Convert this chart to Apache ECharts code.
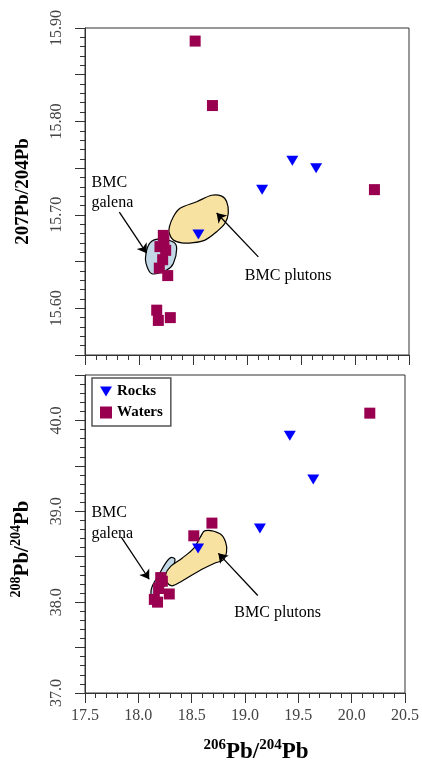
<!DOCTYPE html>
<html>
<head>
<meta charset="utf-8">
<script src="https://cdn.jsdelivr.net/npm/echarts@6/dist/echarts.min.js"></script>
<style>html,body{margin:0;padding:0;background:#fff}#c{width:422px;height:765px}</style>
</head>
<body>
<div id="c"></div>
<script>
// ---- Data ----
const xRange = [17.5, 20.5];
const xTicks = ['17.5','18.0','18.5','19.0','19.5','20.0','20.5'];
const yTopRange = [15.55, 15.90];
const yTopTicks = ['15.60','15.70','15.80','15.90'];
const yBotRange = [37.0, 40.5];
const yBotTicks = ['37.0','38.0','39.0','40.0'];

const rocksX206Top = [19.42, 19.64, 19.14, 18.55];
const rocksY207 = [15.758, 15.750, 15.727, 15.679];
const watersX206Top = [18.52, 18.68, 20.18, 18.225, 18.231, 18.194, 18.247, 18.219, 18.188, 18.266, 18.164, 18.179, 18.29];
const watersY207 = [15.886, 15.817, 15.727, 15.678, 15.673, 15.666, 15.662, 15.652, 15.643, 15.635, 15.598, 15.587, 15.590];

const rocksX206Bot = [19.42, 19.64, 19.14, 18.56];
const rocksY208 = [39.83, 39.35, 38.81, 38.59];
const watersX206Bot = [20.17, 18.69, 18.52, 18.21, 18.225, 18.19, 18.15, 18.18, 18.29];
const watersY208 = [40.08, 38.87, 38.73, 38.27, 38.23, 38.15, 38.03, 38.00, 38.09];

const galenaTop = [[18.102,15.670],[18.179,15.674],[18.318,15.671],[18.349,15.664],[18.318,15.648],[18.256,15.641],[18.118,15.637],[18.065,15.648],[18.065,15.659]];
const plutonsTop = [[18.281,15.687],[18.318,15.698],[18.380,15.707],[18.534,15.714],[18.673,15.721],[18.766,15.720],[18.812,15.714],[18.827,15.702],[18.796,15.691],[18.719,15.682],[18.611,15.673],[18.488,15.670],[18.395,15.670],[18.318,15.673],[18.281,15.680]];
const galenaBot = [[18.303,38.490],[18.343,38.473],[18.318,38.359],[18.271,38.233],[18.225,38.145],[18.148,38.073],[18.118,38.091],[18.132,38.180],[18.194,38.305],[18.256,38.430]];
const plutonsBot = [[18.627,38.787],[18.766,38.752],[18.818,38.662],[18.827,38.555],[18.796,38.466],[18.719,38.430],[18.565,38.341],[18.410,38.233],[18.318,38.180],[18.271,38.216],[18.256,38.305],[18.303,38.394],[18.410,38.484],[18.519,38.591],[18.581,38.715]];

const arrowsTop = [[[17.818,15.703],[18.071,15.659]], [[19.105,15.655],[18.719,15.702]]];
const arrowsBot = [[[17.840,38.715],[18.102,38.252]], [[19.120,38.073],[18.750,38.537]]];
const labelsTop = [[17.56,15.734,'BMC'],[17.56,15.713,'galena'],[18.98,15.635,'BMC plutons']];
const labelsBot = [[17.56,38.98,'BMC'],[17.56,38.755,'galena'],[18.9,37.88,'BMC plutons']];

// ---- Styles ----
const SERIF = '"Liberation Serif","DejaVu Serif",serif';
const BLUE = '#0000ff';
const MAROON = '#990050';
const YELLOW = '#f8e2a2';
const LIGHTBLUE = '#c2d8e6';
const AX = '#333';

function zip(xs, ys){ return xs.map((x,i)=>[x, ys[i]]); }

function polygonSeries(idx, pts, fill){
  return {
    type:'custom', xAxisIndex:idx, yAxisIndex:idx, silent:true, z:2,
    data: pts,
    renderItem: function(params, api){
      if (params.dataIndex !== 0) return null;
      const p = pts.map(d => api.coord(d));
      return {type:'polygon', shape:{points:p, smooth:0.35}, style:{fill:fill, stroke:'#000', lineWidth:1.2}};
    }
  };
}
function textSeries(idx, items){
  return {
    type:'custom', xAxisIndex:idx, yAxisIndex:idx, silent:true, z:5,
    data: items.map(d=>[d[0], d[1]]),
    renderItem: function(params, api){
      const it = items[params.dataIndex];
      const c = api.coord([it[0], it[1]]);
      return {type:'text', x:c[0], y:c[1], style:{text:it[2], font:'16px '+SERIF, fill:'#000', verticalAlign:'middle', align:'left'}};
    }
  };
}
function arrowSeries(idx, arr){
  return {
    type:'lines', coordinateSystem:'cartesian2d', xAxisIndex:idx, yAxisIndex:idx, silent:true, z:4,
    symbol:['none','arrow'], symbolSize:9,
    lineStyle:{color:'#000', width:1.3, opacity:1},
    data: arr.map(a=>({coords:a}))
  };
}

function fmtTop(v){ return Math.abs(v*10 - Math.round(v*10)) < 1e-6 ? v.toFixed(2) : ''; }
function fmtBot(v){ return Math.abs(v - Math.round(v)) < 1e-6 ? v.toFixed(1) : ''; }
function fmtX(v){ return v.toFixed(1); }

const axisLineS = {show:true, lineStyle:{color:AX, width:1}};
const tickS = {show:true, length:10, lineStyle:{color:AX, width:1}};
const minorS = {show:true, splitNumber:5, length:5, lineStyle:{color:AX, width:1}};
const labelS = {fontFamily:SERIF, fontSize:16, color:'#444'};

const option = {
  animation:false,
  backgroundColor:'#fff',
  grid:[
    {left:85, right:13, top:28, height:327, show:true, borderColor:AX, borderWidth:1, containLabel:false},
    {left:85, right:13, top:375, height:327, show:true, borderColor:AX, borderWidth:1, containLabel:false}
  ],
  xAxis:[
    {gridIndex:0, type:'value', min:xRange[0], max:xRange[1], interval:0.5,
     axisLine:axisLineS, axisTick:tickS, minorTick:minorS, splitLine:{show:false}, minorSplitLine:{show:false},
     axisLabel:{show:false}},
    {gridIndex:1, type:'value', min:xRange[0], max:xRange[1], interval:0.5,
     axisLine:axisLineS, axisTick:tickS, minorTick:minorS, splitLine:{show:false}, minorSplitLine:{show:false},
     axisLabel:Object.assign({margin:15, formatter:fmtX}, labelS),
     name:'{sup|206}{b|Pb/}{sup|204}{b|Pb}', nameLocation:'middle', nameGap:45,
     nameTextStyle:{padding:[0,0,0,22], rich:{
       b:{fontFamily:SERIF, fontSize:23, fontWeight:'bold', color:'#000', verticalAlign:'bottom', lineHeight:26},
       sup:{fontFamily:SERIF, fontSize:15, fontWeight:'bold', color:'#000', verticalAlign:'top', lineHeight:26}
     }}}
  ],
  yAxis:[
    {gridIndex:0, type:'value', min:yTopRange[0], max:yTopRange[1], interval:0.05,
     axisLine:axisLineS, axisTick:tickS, minorTick:minorS, splitLine:{show:false}, minorSplitLine:{show:false},
     axisLabel:Object.assign({rotate:90, margin:20, formatter:fmtTop}, labelS),
     name:'207Pb/204Pb', nameLocation:'middle', nameGap:52,
     nameTextStyle:{fontFamily:SERIF, fontSize:19, fontWeight:'bold', color:'#000'}},
    {gridIndex:1, type:'value', min:yBotRange[0], max:yBotRange[1], interval:0.5,
     axisLine:axisLineS, axisTick:tickS, minorTick:minorS, splitLine:{show:false}, minorSplitLine:{show:false},
     axisLabel:Object.assign({rotate:90, margin:20, formatter:fmtBot}, labelS),
     name:'{sup|208}{b|Pb/}{sup|204}{b|Pb}', nameLocation:'middle', nameGap:52,
     nameTextStyle:{padding:[0,30,0,0], rich:{
       b:{fontFamily:SERIF, fontSize:21, fontWeight:'bold', color:'#000', verticalAlign:'bottom', lineHeight:24},
       sup:{fontFamily:SERIF, fontSize:14, fontWeight:'bold', color:'#000', verticalAlign:'top', lineHeight:24}
     }}}
  ],
  legend:{
    left:92, top:378, orient:'vertical', itemGap:6, itemWidth:12, itemHeight:12,
    padding:[6,8,6,8], borderColor:'#555', borderWidth:1.5, backgroundColor:'#fff',
    textStyle:{fontFamily:SERIF, fontSize:15, fontWeight:'bold', color:'#000'},
    data:[
      {name:'Rocks', icon:'path://M0,0 L12,0 L6,10 Z', itemStyle:{color:BLUE}},
      {name:'Waters', icon:'rect', itemStyle:{color:MAROON}}
    ]
  },
  series:[
    polygonSeries(0, galenaTop, LIGHTBLUE),
    polygonSeries(0, plutonsTop, YELLOW),
    polygonSeries(1, galenaBot, LIGHTBLUE),
    polygonSeries(1, plutonsBot, YELLOW),
    arrowSeries(0, arrowsTop),
    arrowSeries(1, arrowsBot),
    textSeries(0, labelsTop),
    textSeries(1, labelsBot),
    {name:'Rocks', type:'scatter', xAxisIndex:0, yAxisIndex:0, symbol:'triangle', symbolRotate:180, symbolSize:[12,10],
     itemStyle:{color:BLUE, opacity:1}, z:6, data:zip(rocksX206Top, rocksY207)},
    {name:'Waters', type:'scatter', xAxisIndex:0, yAxisIndex:0, symbol:'rect', symbolSize:11,
     itemStyle:{color:MAROON, opacity:1}, z:6, data:zip(watersX206Top, watersY207)},
    {name:'Rocks', type:'scatter', xAxisIndex:1, yAxisIndex:1, symbol:'triangle', symbolRotate:180, symbolSize:[12,10],
     itemStyle:{color:BLUE, opacity:1}, z:6, data:zip(rocksX206Bot, rocksY208)},
    {name:'Waters', type:'scatter', xAxisIndex:1, yAxisIndex:1, symbol:'rect', symbolSize:11,
     itemStyle:{color:MAROON, opacity:1}, z:6, data:zip(watersX206Bot, watersY208)}
  ]
};
const chart = echarts.init(document.getElementById('c'), null, {renderer:'canvas'});
chart.setOption(option);
</script>
</body>
</html>
